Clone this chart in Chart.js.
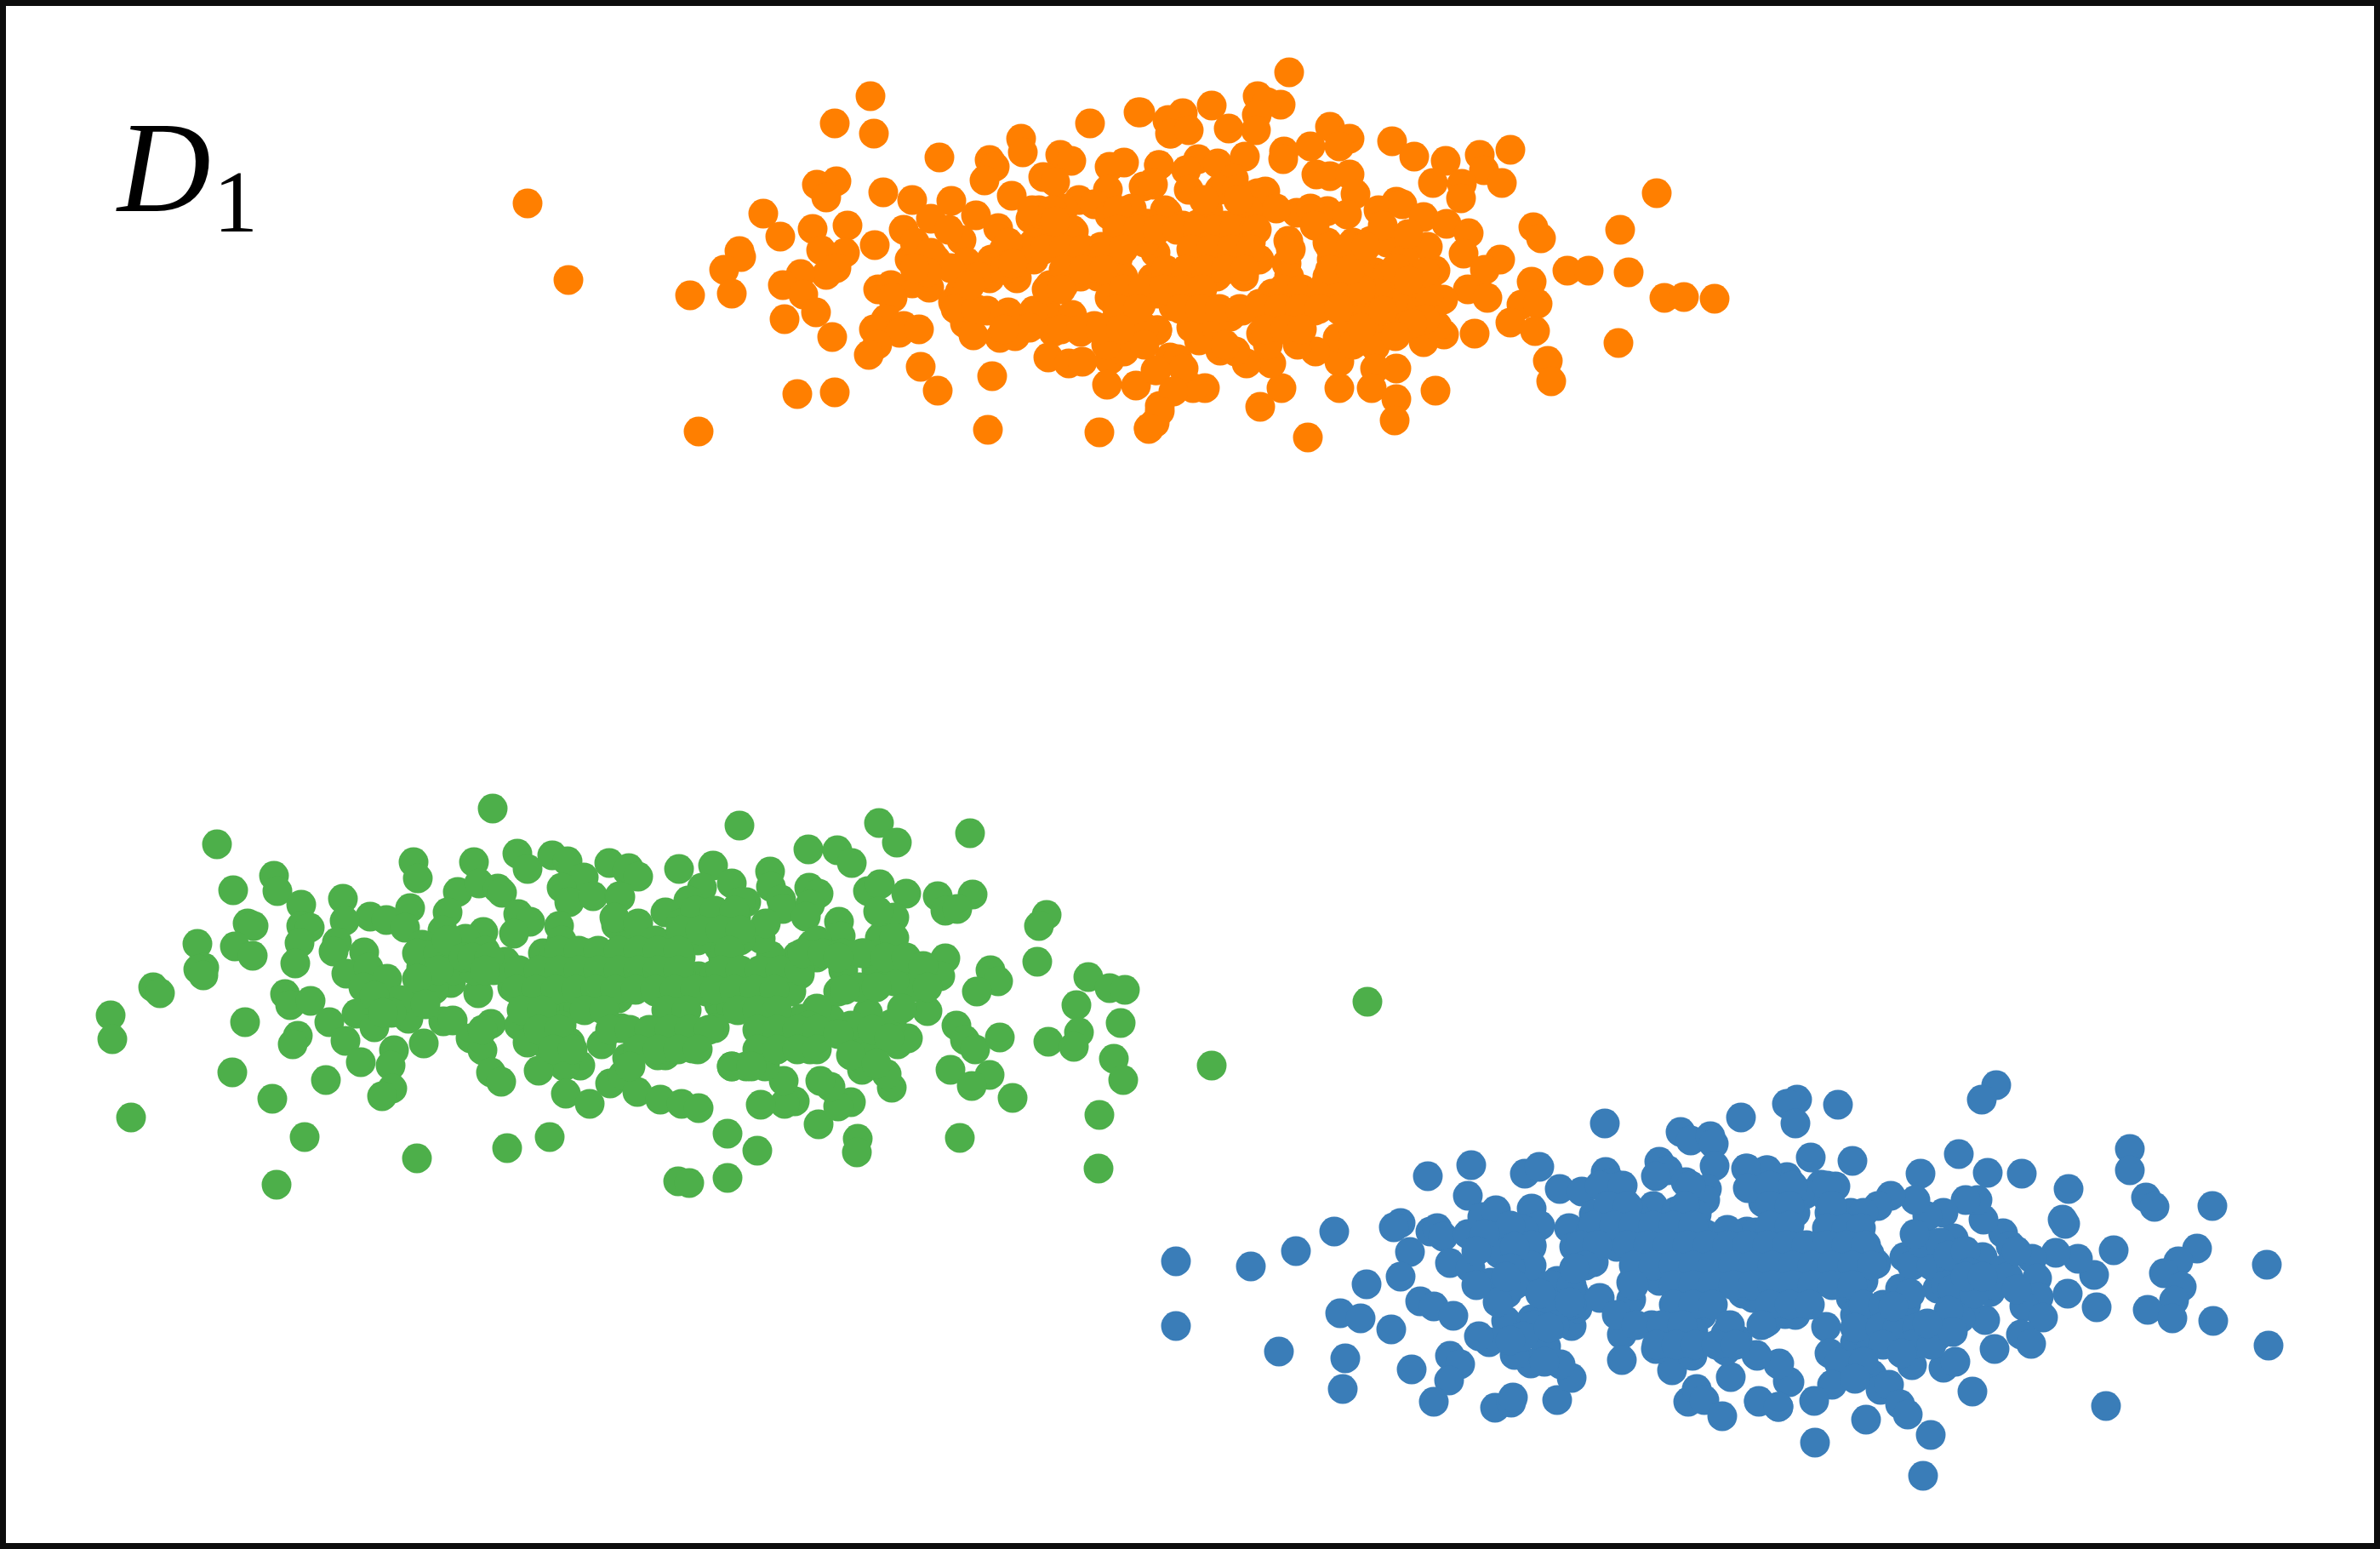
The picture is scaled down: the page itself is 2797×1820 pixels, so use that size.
<!DOCTYPE html>
<html>
<head>
<meta charset="utf-8">
<title>D1 clusters</title>
<script src="https://cdn.jsdelivr.net/npm/chart.js@4/dist/chart.umd.min.js"></script>
<style>
  html, body { margin: 0; padding: 0; background: #fff; }
  canvas { display: block; }
</style>
</head>
<body>
<canvas id="chart" width="2797" height="1820"></canvas>
<script>
// values, in picture units (0-2797 across, 0-1820 down)
const orangePoints = [
  [620,239],[668,329],
  [1023,113],[981,145],[1027,157],[1104,185],[1200,163],[1202,179],[1281,145],[1338,132],[1373,141],[1375,157],
  [1163,188],[1169,196],[1157,212],[1246,182],[1259,189],[1226,208],[1240,214],[1304,196],[1321,191],[1362,194],
  [1355,217],[1344,219],[1302,223],[960,217],[983,213],[971,232],[1038,226],[1072,235],[1118,236],[1189,230],
  [1268,235],[897,251],[917,278],[955,269],[996,265],[1028,288],[869,295],[871,302],[851,317],[860,345],
  [811,347],[965,294],[993,297],[983,315],[971,323],[941,322],[920,335],[944,346],[959,367],[922,375],
  [978,396],[1062,270],[1094,257],[1130,282],[1069,305],[1136,308],[1100,305],[1072,333],[1092,338],[1032,340],
  [1047,335],[1049,350],[1128,343],[1120,355],[1138,362],[1041,375],[1027,387],[1062,383],[1057,391],[1080,387],
  [1031,405],[1021,417],[1082,431],[1102,459],[937,463],[981,461],[821,507],[1161,505],[1292,508],[1350,504],
  [1166,442],[1134,380],[1144,394],[1175,397],[1193,395],[1185,367],[1199,378],[1163,327],
  [1173,268],[1147,253],[1195,293],[1211,257],[1221,247],[1234,290],[1262,272],[1250,335],[1234,335],
  [1195,327],[1232,368],[1260,370],[1238,390],[1286,383],[1270,390],[1232,420],[1256,427],[1272,425],[1304,423],
  [1314,390],[1339,393],[1360,388],[1321,413],[1301,452],[1335,453],[1359,435],[1363,477],[1357,497],[1286,240],
  [1304,253],[1323,257],[1347,263],[1369,247],[1294,290],[1290,325],[1304,350],[1325,357],[1341,358],[1314,303],
  [1333,283],[1373,333],[1381,357],[1375,420],[1515,85],[1478,113],[1505,123],[1489,120],[1477,135],
  [1476,153],[1424,124],[1444,151],[1390,133],[1372,142],[1376,157],[1397,153],[1340,132],[1362,194],[1408,187],
  [1431,192],[1394,200],[1463,184],[1509,178],[1508,187],[1540,172],[1563,149],[1586,163],[1574,172],[1636,166],
  [1662,184],[1699,189],[1739,182],[1775,176],[1744,200],[1765,215],[1684,215],[1718,216],[1717,233],[1547,205],
  [1563,207],[1586,205],[1593,228],[1641,237],[1620,247],[1648,240],[1673,255],[1700,263],[1726,274],[1720,298],
  [1802,267],[1811,280],[1904,270],[1947,227],[1842,318],[1867,318],[1914,320],[1956,350],[1979,349],[2015,351],
  [1763,305],[1745,317],[1800,331],[1725,340],[1748,350],[1788,358],[1807,357],[1775,379],[1804,389],[1733,392],
  [1902,403],[1819,424],[1823,448],[1687,459],[1697,393],[1673,402],[1689,383],[1696,352],[1687,318],[1678,290],
  [1645,293],[1643,333],[1657,360],[1649,368],[1638,352],[1664,333],[1620,397],[1616,407],[1641,433],[1616,433],
  [1612,456],[1641,469],[1639,494],[1574,456],[1574,425],[1572,397],[1546,413],[1525,405],[1506,456],[1481,478],
  [1537,514],[1494,427],[1465,427],[1452,413],[1434,412],[1409,400],[1416,456],[1402,456],[1384,422],[1358,435],
  [1391,433],[1379,460],[1363,483],[1350,503],[1360,388],[1397,368],[1446,372],[1482,392],[1524,397],[1480,357],
  [1524,350],[1556,353],[1595,370],[1583,310],[1560,285],[1611,283],[1616,320],[1524,250],[1560,248],[1583,252],
  [1514,283],[1512,310],[1478,227],[1487,225],[1450,210],[1397,223],[1354,215],[1473,263],[1372,250],
  [1349,263],[1409,263],[1455,297],[1354,327],[1409,327],[1462,325],[1379,360],[1432,283],
  [1358,297],[1583,340],
  [1250,245],[1330,245],[1500,245],[1540,245],
  [1340,265],[1390,265],[1440,265],[1545,265],
  [1215,285],[1250,285],[1310,285],[1345,285],[1410,285],[1470,285],[1590,285],[1630,285],
  [1165,305],[1215,305],[1270,305],[1425,305],[1480,305],[1565,305],[1600,305],[1650,305],
  [1150,325],[1270,325],[1320,325],[1385,325],[1430,325],[1515,325],[1560,325],[1600,325],[1630,325],
  [1330,345],[1360,345],[1410,345],[1495,345],[1545,345],[1585,345],[1620,345],[1680,345],
  [1160,365],[1215,365],[1420,365],[1460,365],[1505,365],[1545,365],[1575,365],[1620,365],
  [1210,385],[1300,385],[1345,385],[1400,385],[1430,385],[1500,385],[1590,385],
  [1300,405],[1345,405],[1440,405],[1490,405],[1590,405],
  [1433,223],[1453,223],[1213,247],[1237,247],[1313,247],[1420,247],[1467,247],
  [1240,270],[1260,270],[1313,270],[1337,270],[1360,270],[1383,270],[1407,270],[1427,270],[1450,270],[1473,270],[1477,270],
  [1180,293],[1203,293],[1227,293],[1250,293],[1273,293],[1297,293],[1320,293],[1400,293],[1423,293],[1447,293],[1470,293],[1517,293],
  [1087,317],[1180,317],[1250,317],[1273,317],[1297,317],[1370,317],[1393,317],[1417,317],[1440,317],[1463,317],
  [1230,340],[1247,340],[1320,340],[1343,340],[1367,340],[1390,340],[1413,340],[1507,340],[1530,340],[1553,340],[1577,340],[1600,340],
  [1123,363],[1147,363],[1313,363],[1337,363],[1387,363],[1410,363],[1433,363],[1457,363],[1480,363],[1503,363],[1527,363],[1550,363],[1573,363],
  [1180,387],[1247,387],[1270,387],[1293,387],[1317,387],[1487,387],[1510,387],[1530,387],
  [1563,290],[1587,290],[1563,317],[1587,317],
  [1075,285],[1094,297],[1117,315],[1090,320],[1075,315],[1115,270],[1140,335],[1185,285],[1240,260],[1190,310],
  [1625,265],[1655,275],[1605,290],[1640,315],[1675,320],[1655,330],[1675,375],[1660,380],[1600,385],[1625,365],[1640,395],
  [1415,235],[1455,235]
];

const greenPoints = [
  [1607,1177],
  [579,950],[255,992],[322,1029],[326,1047],[274,1046],[354,1063],[403,1056],[486,1013],[491,1032],[557,1013],
  [608,1003],[620,1021],[649,1005],[667,1012],[716,1014],[737,1023],[686,1031],[660,1043],[669,1060],[697,1053],
  [728,1053],[538,1048],[563,1038],[585,1044],[590,1049],[482,1067],[435,1077],[454,1081],[526,1072],[609,1074],
  [623,1083],[657,1088],[405,1082],[476,1090],[291,1085],[298,1088],[354,1088],[364,1090],[520,1093],[568,1095],
  [547,1103],[604,1097],[276,1112],[297,1123],[352,1108],[232,1109],[396,1107],[392,1118],[428,1119],[496,1110],
  [347,1132],[240,1137],[233,1139],[239,1146],[495,1137],[530,1120],[570,1117],[594,1130],[638,1120],[724,1087],
  [690,1120],[724,1120],[407,1144],[433,1137],[455,1150],[427,1160],[530,1155],[501,1160],[562,1167],[602,1160],
  [631,1153],[669,1153],[707,1160],[180,1160],[188,1167],[130,1193],[132,1221],[335,1168],[341,1181],[365,1176],
  [387,1201],[419,1191],[440,1207],[480,1177],[480,1197],[521,1200],[532,1199],[577,1203],[615,1187],[661,1187],
  [699,1183],[724,1163],[288,1201],[350,1217],[344,1227],[406,1223],[463,1234],[498,1226],[553,1220],[567,1234],
  [636,1213],[644,1230],[707,1227],[682,1252],[663,1253],[424,1248],[459,1252],[461,1279],[449,1288],[577,1260],
  [589,1271],[633,1258],[665,1285],[693,1297],[717,1273],[737,1243],[732,1263],[273,1260],[383,1269],[320,1291],
  [154,1313],[358,1336],[490,1361],[596,1349],[646,1336],[325,1392],[869,970],[1033,967],[1054,990],[1140,979],
  [950,998],[984,999],[1001,1014],[739,1020],[750,1030],[798,1021],[838,1017],[860,1038],[825,1043],[809,1058],
  [877,1060],[782,1072],[729,1054],[905,1024],[906,1042],[918,1057],[920,1068],[951,1043],[962,1050],[952,1063],
  [947,1077],[1020,1047],[1034,1039],[1065,1050],[1102,1053],[1143,1051],[1111,1070],[1125,1068],[1230,1075],[1221,1088],
  [1219,1130],[1111,1126],[1105,1147],[1164,1140],[1173,1153],[1148,1165],[1279,1148],[1304,1161],[1322,1163],[1265,1181],
  [1317,1202],[1090,1188],[1124,1205],[1134,1222],[1146,1233],[1175,1219],[1232,1224],[1268,1213],[1262,1230],[1309,1244],
  [1320,1269],[1424,1252],[1117,1257],[1163,1263],[1142,1276],[1190,1290],[1292,1310],[1291,1373],[1128,1337],[1008,1338],
  [1007,1354],[962,1321],[890,1352],[855,1332],[855,1384],[797,1388],[810,1390],[1048,1278],[1042,1262],[1013,1257],
  [1000,1295],[985,1300],[976,1277],[964,1270],[934,1294],[922,1297],[894,1298],[921,1270],[899,1253],[877,1253],
  [860,1253],[814,1232],[782,1240],[773,1240],[741,1253],[749,1283],[776,1292],[801,1297],[821,1302],[1055,1227],
  [1067,1220],[1020,1230],[996,1220],[952,1233],[913,1233],[824,1213],[763,1213],[1020,1190],
  [1048,1203],[976,1197],[942,1197],[904,1193],[860,1177],[787,1177],[727,1173],[797,1193],[991,1140],
  [1030,1140],[1068,1140],[1073,1160],[1051,1153],[1010,1160],[918,1160],[870,1150],[821,1147],[773,1140],
  [724,1137],[748,1160],[797,1167],[845,1180],[954,1110],[986,1083],[988,1100],[1034,1102],[1051,1078],[1032,1071],
  [1051,1102],[1015,1120],[937,1123],[906,1123],[894,1103],[865,1080],[821,1087],[792,1107],[750,1092],[722,1078],
  [739,1110],[845,1113],[870,1060],
  [750,1085],[800,1085],[850,1085],[900,1085],
  [660,1105],[770,1105],[820,1105],[870,1105],[960,1105],
  [650,1125],[680,1125],[760,1125],[800,1125],[850,1125],[960,1125],
  [620,1145],[650,1145],[690,1145],[760,1145],[800,1145],[840,1145],[900,1145],[940,1145],
  [640,1165],[680,1165],[770,1165],[830,1165],[890,1165],[930,1165],[985,1165],
  [640,1185],[680,1185],[860,1185],[960,1185],
  [610,1205],[660,1205],[730,1208],[780,1205],[840,1208],[900,1205],[950,1205],
  [620,1225],[670,1225],[790,1225],[900,1225],
  [817,1070],[840,1070],[863,1070],[800,1093],[823,1093],[847,1093],[870,1093],
  [657,1117],[680,1117],[703,1117],[727,1117],[750,1117],[773,1117],[797,1117],[857,1117],
  [510,1140],[533,1140],[557,1140],[580,1140],[610,1140],[633,1140],[657,1140],[680,1140],[703,1140],[727,1140],[750,1140],[773,1140],[797,1140],[847,1140],[870,1140],[893,1140],[917,1140],[940,1140],
  [510,1163],[607,1163],[630,1163],[653,1163],[677,1163],[700,1163],[723,1163],[747,1163],[770,1163],[793,1163],[817,1163],[840,1163],[863,1163],[887,1163],[910,1163],[993,1163],
  [613,1187],[637,1187],[687,1187],[710,1187],[783,1187],[807,1187],[867,1187],[890,1187],[913,1187],
  [567,1210],[633,1210],[657,1210],[717,1210],[740,1210],[763,1210],[787,1210],[810,1210],[833,1210],[890,1210],[913,1210],[937,1210],[960,1210],
  [650,1233],[673,1233],[750,1233],[773,1233],[797,1233],[820,1233],[890,1233],[913,1233],[937,1233],[960,1233],
  [740,1253],[860,1253],[883,1253],[943,1120],[967,1120],[990,1120],[1013,1120],
  [490,1120],[515,1120],[515,1140],[490,1150],[470,1175],[460,1190],[500,1180],[440,1170],[450,1190],
  [525,1105],[545,1125],[555,1125],[575,1125],[570,1140],
  [985,1125],[1040,1125],[1065,1125],[1085,1135],[1030,1160],[1090,1160],[1060,1185],
  [1000,1205],[1025,1210],[1045,1220],[985,1215],[1000,1240],[1030,1250]
];

const bluePoints = [
  [1382,1482],[1382,1558],[1470,1488],[1523,1470],[1568,1447],[1678,1382],[1729,1369],[1725,1405],[1646,1437],[1638,1442],
  [1681,1447],[1689,1443],[1657,1471],[1696,1453],[1725,1450],[1742,1430],[1758,1422],[1704,1484],[1728,1490],[1646,1500],
  [1606,1509],[1669,1529],[1685,1535],[1708,1546],[1575,1543],[1599,1549],[1635,1562],[1503,1588],[1581,1596],[1578,1632],
  [1659,1609],[1704,1593],[1716,1603],[1703,1622],[1685,1647],[1757,1654],[1776,1648],[1778,1642],[1830,1645],[1847,1619],
  [1834,1603],[1799,1602],[1780,1592],[1817,1582],[1750,1577],[1738,1570],[1770,1552],[1800,1550],[1847,1558],
  [1906,1568],[1906,1598],[1965,1610],[2034,1618],[1984,1647],[1994,1632],[2003,1645],[2024,1664],[2067,1646],[2090,1653],
  [1886,1320],[2046,1313],[2102,1297],[1975,1330],[1987,1340],[2010,1335],[2014,1344],[2015,1370],[1950,1365],[1960,1375],
  [1946,1382],[1981,1389],[2006,1397],[2004,1410],[2053,1373],[2077,1375],[2057,1395],[2072,1413],[1792,1379],[1809,1371],
  [1833,1397],[1859,1400],[1887,1377],[1895,1390],[1907,1410],[1800,1420],[1810,1440],[1844,1443],[1873,1427],[1943,1417],
  [1970,1423],[1994,1427],[1757,1453],[1762,1473],[1893,1457],[1941,1447],[2004,1450],[2053,1447],[1752,1507],
  [1771,1520],[1800,1507],[1849,1517],[1873,1483],[1917,1507],[1960,1487],[2019,1487],[2082,1473],[2082,1507],[1917,1527],
  [1970,1527],[2048,1520],[2077,1553],[1941,1557],[1970,1557],[2028,1567],[1946,1585],[1989,1593],[2028,1587],[2065,1593],
  [2091,1602],[2101,1623],[1825,1540],[1854,1537],[2091,1447],[2346,1275],[2329,1292],[2112,1292],[2100,1297],[2160,1298],
  [2110,1320],[2302,1356],[2128,1360],[2177,1364],[2257,1379],[2336,1378],[2376,1379],[2431,1397],[2503,1350],[2503,1375],
  [2522,1407],[2532,1418],[2600,1417],[2424,1433],[2427,1438],[2484,1469],[2582,1467],[2560,1482],[2543,1496],[2664,1486],
  [2564,1512],[2555,1528],[2524,1539],[2553,1549],[2601,1552],[2666,1581],[2461,1498],[2442,1479],[2416,1472],[2430,1520],
  [2464,1536],[2388,1479],[2394,1502],[2396,1524],[2379,1535],[2401,1548],[2375,1568],[2387,1579],[2344,1585],[2333,1551],
  [2354,1449],[2363,1464],[2331,1433],[2324,1410],[2310,1410],[2284,1425],[2265,1429],[2251,1410],[2222,1405],[2207,1417],
  [2157,1394],[2140,1392],[2100,1383],[2076,1375],[2052,1373],[2054,1396],[2088,1403],[2122,1403],[2149,1410],[2185,1440],
  [2175,1425],[2197,1473],[2238,1477],[2272,1462],[2296,1455],[2330,1477],[2354,1492],[2281,1492],[2277,1514],[2339,1518],
  [2310,1536],[2304,1549],[2277,1570],[2255,1574],[2216,1575],[2233,1514],[2209,1536],[2180,1577],[2146,1559],
  [2150,1590],[2161,1601],[2153,1627],[2132,1646],[2133,1695],[2193,1668],[2200,1615],[2210,1633],[2220,1627],[2233,1650],
  [2242,1662],[2269,1686],[2260,1734],[2247,1604],[2284,1607],[2298,1600],[2318,1635],[2475,1652],[2103,1624],[2090,1603],
  [2064,1592],[2042,1574],[2067,1647],[2090,1653],[2074,1555],[2098,1544],[2064,1499],[2112,1507],[2161,1507],[2185,1536],
  [2112,1462],[2064,1448],[2156,1455],[2088,1433],
  [1920,1425],[2110,1425],[2150,1425],[2190,1425],
  [1790,1445],[1870,1445],[1920,1445],[1970,1445],[2030,1445],[2080,1445],[2170,1445],
  [1800,1465],[1850,1465],[1900,1465],[1930,1465],[1985,1465],[2030,1465],[2075,1465],[2110,1465],[2145,1465],[2180,1465],
  [1790,1485],[1930,1485],[1990,1485],[2045,1485],[2100,1485],[2135,1485],[2170,1485],[2205,1485],
  [1830,1505],[1950,1505],[1990,1505],[2040,1505],[2130,1505],[2190,1505],
  [1880,1525],[2010,1525],[2060,1525],[2105,1525],[2175,1525],
  [1900,1545],[2000,1545],[2110,1545],[2180,1545],
  [1990,1565],[2190,1565],
  [1880,1393],[1907,1393],[1987,1393],[2080,1393],[2107,1393],[2147,1393],
  [1890,1417],[1913,1417],[1980,1417],[2080,1417],[2103,1417],[2153,1417],
  [1873,1440],[1897,1440],[1920,1440],[1943,1440],[1967,1440],[1990,1440],[2080,1440],[2103,1440],[2147,1443],[2170,1443],[2187,1443],
  [1800,1463],[1857,1463],[1877,1463],[1913,1463],[1937,1463],[1960,1463],[1983,1463],[2007,1463],[2030,1463],[2053,1463],[2077,1463],[2100,1463],[2123,1463],[2147,1463],[2170,1463],[2193,1463],
  [1800,1487],[1863,1487],[1920,1487],[1943,1487],[1967,1487],[1990,1487],[2013,1487],[2037,1487],[2060,1487],[2083,1487],[2107,1487],[2130,1487],[2153,1487],[2177,1487],[2200,1487],[2247,1487],[2270,1487],[2293,1487],
  [1823,1510],[1847,1510],[1920,1510],[1967,1510],[1990,1510],[2013,1510],[2037,1510],[2060,1510],[2083,1510],[2107,1510],[2130,1510],[2153,1510],[2177,1510],[2287,1510],
  [1823,1533],[1847,1533],[1967,1533],[1990,1533],[2013,1533],[2080,1533],[2103,1533],[2127,1533],[2190,1533],[2213,1533],[2240,1533],
  [1803,1557],[1827,1557],[1923,1557],[1953,1557],[1977,1557],[2033,1557],[2070,1557],[2180,1560],[2210,1560],[2230,1560],[2253,1560],
  [1947,1580],[1970,1580],[1993,1580],[2017,1580],[2040,1580],[2213,1580],[2247,1580],[2270,1580],
  [2257,1460],[2280,1460],
  [1775,1440],[1780,1465],[1775,1490],[1780,1510],[1810,1520],[1760,1530],[1770,1500],[1745,1450],[1735,1470],[1735,1510],
  [1850,1490],[1845,1530],[1790,1570],[1820,1560],[1775,1575],[1815,1600],
  [2250,1450],[2290,1475],[2310,1470],[2315,1495],[2345,1510],[2295,1515],[2320,1520],[2245,1520],[2225,1535],[2290,1540],
  [2360,1500],[2370,1515],[2310,1500],[2370,1470],[2330,1500],[2295,1565],[2265,1555],[2235,1590],[2190,1600],[2180,1620]
];

const panelLabel = 'D';
const panelSubscript = '1';

const dotRadius = 17.5;

const frameAndLabel = {
  id: 'frameAndLabel',
  afterDraw(chart) {
    const { ctx, width, height } = chart;
    ctx.save();
    ctx.strokeStyle = '#0d0d0d';
    ctx.lineWidth = 7;
    ctx.strokeRect(3.5, 3.5, width - 7, height - 7);

    ctx.fillStyle = '#000';
    ctx.textBaseline = 'alphabetic';
    ctx.textAlign = 'left';
    ctx.font = 'italic 152px "Liberation Serif"';
    ctx.fillText(panelLabel, 138, 248);
    ctx.textAlign = 'center';
    ctx.font = '104px "Liberation Serif"';
    ctx.fillText(panelSubscript, 277, 272);
    ctx.restore();
  },
};

const toXY = (pts) => pts.map(([x, y]) => ({ x, y }));

const dataset = (label, pts, color) => ({
  label,
  data: toXY(pts),
  backgroundColor: color,
  borderWidth: 0,
  pointRadius: dotRadius,
  pointHoverRadius: dotRadius,
});

new Chart(document.getElementById('chart'), {
  type: 'scatter',
  data: {
    datasets: [
      dataset('orange', orangePoints, '#ff7f00'),
      dataset('green', greenPoints, '#4daf4a'),
      dataset('blue', bluePoints, '#3a7db8'),
    ],
  },
  options: {
    responsive: false,
    animation: false,
    devicePixelRatio: 1,
    layout: { padding: 0, autoPadding: false },
    plugins: { legend: { display: false }, tooltip: { enabled: false }, title: { display: false } },
    scales: {
      x: { type: 'linear', min: 0, max: 2797, display: false },
      y: { type: 'linear', min: 0, max: 1820, reverse: true, display: false },
    },
  },
  plugins: [frameAndLabel],
});
</script>
</body>
</html>
